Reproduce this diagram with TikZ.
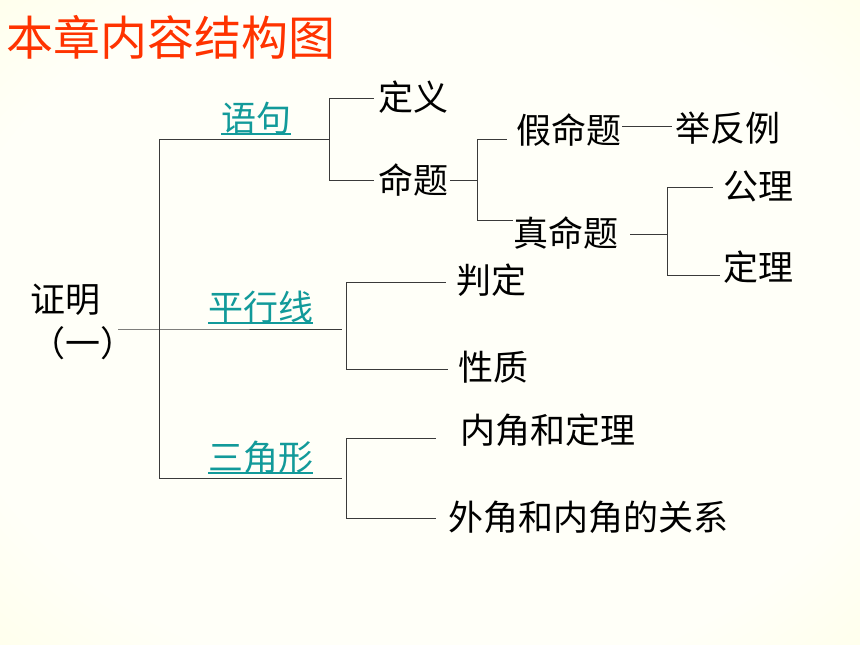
\documentclass[tikz,border=0pt]{standalone}
\usepackage{fontspec}
\newfontfamily\cjk{Noto Sans CJK SC}
\definecolor{titlered}{HTML}{FF3300}
\definecolor{linkteal}{HTML}{129A9A}
\definecolor{bgedge}{HTML}{FFFF60}
\definecolor{bgmid}{HTML}{FFFFF8}
\definecolor{bgin}{HTML}{FFFFC4}
\definecolor{linegray}{HTML}{3A3A3A}
\pgfdeclareradialshading{slidebg}{\pgfpoint{0bp}{0bp}}{color(0bp)=(bgmid); color(28bp)=(bgmid); color(62bp)=(bgin); color(96bp)=(bgedge); color(100bp)=(bgedge)}
\begin{document}
\begin{tikzpicture}[x=1pt,y=-1pt,
  txt/.style={anchor=west,inner sep=0pt,font=\cjk\fontsize{35}{35}\selectfont,text=black},
  lbl/.style={anchor=west,inner sep=0pt,font=\cjk\fontsize{35}{35}\selectfont,text=linkteal},
  conn/.style={draw=linegray,line width=0.9pt},
  ul/.style={draw=linkteal,line width=1.2pt}]
\useasboundingbox (0,0) rectangle (860,645);
\fill[bgedge] (0,0) rectangle (860,645);
\shade[shading=slidebg] (0,0) rectangle (860,645);
% title
\node[anchor=west,inner sep=0pt,font=\cjk\fontsize{47}{47}\selectfont,text=titlered] (title) at (6,37) {本章内容结构图};
% root
\node[txt] (root1) at (30,300) {证明};
\node[txt] (root2) at (30,343) {（一）};
% level 1 labels
\node[lbl] (yuju) at (221,118) {语句};
\node[lbl] (pxx) at (208,307) {平行线};
\node[lbl] (sjx) at (208,457) {三角形};
\draw[ul] ([yshift=-16pt]yuju.west) -- ([yshift=-16pt]yuju.east);
\draw[ul] ([yshift=-16pt]pxx.west) -- ([yshift=-16pt]pxx.east);
\draw[ul] ([yshift=-16pt]sjx.west) -- ([yshift=-16pt]sjx.east);
% leaves
\node[txt] (dingyi) at (378,97) {定义};
\node[txt] (mingti) at (378,180) {命题};
\node[txt] (jia) at (516,130) {假命题};
\node[txt] (jufan) at (675,128) {举反例};
\node[txt] (zhen) at (513,233) {真命题};
\node[txt] (gongli) at (723,186) {公理};
\node[txt] (dingli) at (723,267) {定理};
\node[txt] (panding) at (456,280) {判定};
\node[txt] (xingzhi) at (458,367) {性质};
\node[txt] (neijiao) at (460,430) {内角和定理};
\node[txt] (waijiao) at (448,517) {外角和内角的关系};
% coordinates
\coordinate (r0) at (118,329);
\coordinate (tA) at (159,139);
\coordinate (tB) at (159,329);
\coordinate (tC) at (159,478);
\coordinate (yA) at (329,139);
\coordinate (pA) at (342,329);
\coordinate (sA) at (342,478);
% trunk
\draw[conn] (tA) -- (tC);
\draw[conn] (r0) -- (tB) -- (pA);
\draw[conn] (tA) -- (yA);
\draw[conn] (tC) -- (sA);
% 语句 bracket
\coordinate (y1) at (329,98);
\coordinate (y2) at (329,180);
\draw[conn] (y1) -- (y2);
\draw[conn] (y1) -- ([xshift=-4pt]dingyi.west |- y1);
\draw[conn] (y2) -- ([xshift=-4pt]mingti.west |- y2);
% 命题 bracket
\coordinate (m0) at (477,180);
\coordinate (m1) at (477,139);
\coordinate (m2) at (477,220);
\draw[conn] ([xshift=2pt]mingti.east |- m0) -- (m0);
\draw[conn] (m1) -- (m2);
\draw[conn] (m1) -- ([xshift=-9pt]jia.west |- m1);
\draw[conn] (m2) -- ([xshift=0pt]zhen.west |- m2);
% 假命题 -- 举反例
\draw[conn] ([xshift=1pt]jia.east |- 0,126) -- ([xshift=-3pt]jufan.west |- 0,126);
% 真命题 bracket
\coordinate (z0) at (667,234);
\coordinate (z1) at (667,187);
\coordinate (z2) at (667,275);
\draw[conn] ([xshift=12pt]zhen.east |- z0) -- (z0);
\draw[conn] (z1) -- (z2);
\draw[conn] (z1) -- ([xshift=-10pt]gongli.west |- z1);
\draw[conn] (z2) -- ([xshift=-3pt]dingli.west |- z2);
% 平行线 bracket
\coordinate (p1) at (346,282);
\coordinate (p2) at (346,369);
\draw[conn] (p1) -- (p2);
\draw[conn] (p1) -- ([xshift=-10pt]panding.west |- p1);
\draw[conn] (p2) -- ([xshift=-10pt]xingzhi.west |- p2);
% 三角形 bracket
\coordinate (s1) at (346,438);
\coordinate (s2) at (346,518);
\draw[conn] (s1) -- (s2);
\draw[conn] (s1) -- ([xshift=-24pt]neijiao.west |- s1);
\draw[conn] (s2) -- ([xshift=-12pt]waijiao.west |- s2);
\end{tikzpicture}
\end{document}
